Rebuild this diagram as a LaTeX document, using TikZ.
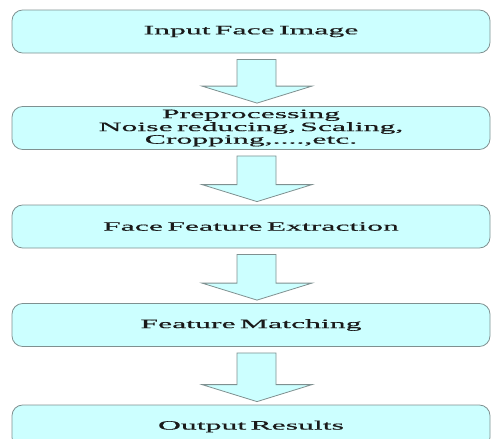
\documentclass[tikz,border=0pt]{standalone}
\usepackage{fontspec}
\usetikzlibrary{calc}
\newfontfamily\boxfont[FakeStretch=2.48,FakeBold=0.5]{Liberation Serif}
\newcommand{\stagefont}{\boxfont\fontsize{9.6}{8}\selectfont\spaceskip=7.5pt\relax}
\definecolor{boxfill}{HTML}{CCFFFF}
\definecolor{boxline}{HTML}{7F9090}
\definecolor{boxtext}{HTML}{1A1A1A}

% block arrow from the bottom of one box to the top of the next
\newcommand{\flowarrow}[2]{%
  \draw[flowarrow] ($(#1.south)+(-14,6)$) -- ($(#2.north)+(-14,-20)$) -- ($(#2.north)+(-49,-20)$)
    -- ($(#2.north)+(6,-3)$) -- ($(#2.north)+(61,-20)$) -- ($(#2.north)+(25,-20)$)
    -- ($(#1.south)+(25,6)$) -- cycle;}

\begin{document}
\begin{tikzpicture}[x=0.75pt, y=-0.75pt,
  stage/.style={draw=boxline, fill=boxfill, line width=0.6pt, rounded corners=8pt,
    minimum width=358.5pt, minimum height=32.25pt, inner sep=0pt, text width=340pt, align=center,
    text=boxtext, font=\stagefont},
  flowarrow/.style={draw=boxline, fill=boxfill, line width=0.6pt, line join=miter}]
  \useasboundingbox (0,0) rectangle (493,439);
  \clip (0,0) rectangle (493,439);

  % stages
  \node[stage] (inp) at (251,31.5) {Input Face Image};
  \node[stage] (pre) at (251,128) {Preprocessing\\Noise reducing, Scaling,\\Cropping,....,etc.};
  \node[stage] (ext) at (251,226.5) {Face Feature Extraction};
  \node[stage] (mat) at (251,325) {Feature Matching};
  \node[stage] (out) at (251,426.5) {Output Results};

  % arrows
  \flowarrow{inp}{pre}
  \flowarrow{pre}{ext}
  \flowarrow{ext}{mat}
  \flowarrow{mat}{out}
\end{tikzpicture}
\end{document}
